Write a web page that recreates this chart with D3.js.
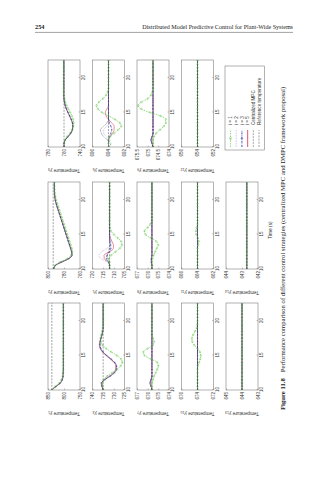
<!DOCTYPE html>
<html>
<head>
<meta charset="utf-8">
<script src="https://cdn.jsdelivr.net/npm/d3@7"></script>
<style>
  html, body { margin: 0; padding: 0; background: #fff; }
  svg { display: block; }
</style>
</head>
<body>
<svg id="page" width="334" height="480"></svg>
<script>
// ---- sample times (s) ----
const time = [10,10.5,11,11.5,12,12.5,13,13.5,14,14.5,15,15.5,16,16.5,17,17.5,18,18.5,19,19.5,20,20.5,21,21.5,22,22.5];
const timeTicks = [10, 15, 20];

// ---- reference temperatures, one per output ----
const refTemp = [838, 793.5, 760, 735, 712, 694, 675.6, 675.6, 674.75, 674, 664, 654, 644, 642.7];

// ---- y-axis ranges and tick labels per output ----
const yDomains = [[750,850],[760,800],[740,780],[725,740],[705,720],[692,696],[674,677],[674,677],[674,675.5],[672,676],[662,666],[652,656],[643,645],[642,644]];
const yTicks = [[750,800,850],[760,780,800],[740,760,780],[725,730,735,740],[705,710,715,720],[692,694,696],[674,675,676,677],[674,675,676,677],[674,674.5,675,675.5],[672,674,676],[662,664,666],[652,654,656],[643,644,645],[642,643,644]];

// ---- series labels ----
const seriesKeys = ["i5", "i2", "i3", "i1", "cmpc"];
const legendLabels = ["i = 1", "i = 2", "i = 3", "i = 5", "Centralized MPC", "Reference temperature"];

// ---- y1 ----
const y1_cmpc = [838,825,811,805,803,802.5,802,802,802,802,802,802,802,802,802,802,802,802,802,802,802,802,802,802,802,802];
const y1_i1 = [838,828,815,808,804.5,803,802.5,802,802,802,802,802,802,802,802,802,802,802,802,802,802,802,802,802,802,802];
const y1_i2 = [838,826,812,806,803.5,802.5,802,802,802,802,802,802,802,802,802,802,802,802,802,802,802,802,802,802,802,802];
const y1_i3 = [838,825.5,811.5,805.5,803,802.5,802,802,802,802,802,802,802,802,802,802,802,802,802,802,802,802,802,802,802,802];
const y1_i5 = [840,826,812,805.5,803,802.5,802,802,802,802,802,802,802,802,802,802,802,802,802,802,802,802,802,802,802,802];
// ---- y2 ----
const y2_cmpc = [793,791,783,774,770,770.5,771.8,773.2,774.6,776,777.4,778.8,780.2,781.6,783,784.4,785.8,787.2,788.6,789.9,791,791.6,791.9,792,792,792];
const y2_i1 = [793,791.5,785,776,771,769.5,770.3,771.6,773,774.4,775.8,777.2,778.6,780,781.4,782.8,784.2,785.6,787,788.4,789.7,790.8,791.5,791.8,792,792];
const y2_i2 = [793,791,783.5,774.5,770.3,770.7,772,773.4,774.8,776.2,777.6,779,780.4,781.8,783.2,784.6,786,787.4,788.8,790,791,791.6,791.9,792,792,792];
const y2_i3 = [793,791,783.2,774.2,770.1,770.5,771.8,773.2,774.6,776,777.4,778.8,780.2,781.6,783,784.4,785.8,787.2,788.6,789.9,791,791.6,791.9,792,792,792];
const y2_i5 = [793,790.8,782.8,773.8,770,770.4,771.7,773.1,774.5,775.9,777.3,778.7,780.1,781.5,782.9,784.3,785.7,787.1,788.5,789.8,790.9,791.5,791.9,792,792,792];
// ---- y3 ----
const y3_cmpc = [760,760,758.5,755,751.5,749.5,749,749.5,751,753,755,757,758.5,759.5,760,760.2,760.2,760.2,760.2,760.2,760.2,760.2,760.2,760.2,760.2,760.2];
const y3_i1 = [760,760,759,756.2,752.5,750,748.5,748,748.6,750.2,752.3,754.5,756.6,758.3,759.5,760.2,760.4,760.4,760.3,760.3,760.3,760.3,760.3,760.3,760.3,760.3];
const y3_i2 = [760,760,758.7,755.3,751.8,749.8,749.2,749.7,751.2,753.2,755.2,757.2,758.6,759.6,760.1,760.2,760.2,760.2,760.2,760.2,760.2,760.2,760.2,760.2,760.2,760.2];
const y3_i3 = [760,760,758.4,754.9,751.4,749.4,748.9,749.4,750.9,752.9,754.9,756.9,758.4,759.4,760,760.2,760.2,760.2,760.2,760.2,760.2,760.2,760.2,760.2,760.2,760.2];
const y3_i5 = [760,760,758.6,755.1,751.6,749.6,749.1,749.6,751.1,753.1,755.1,757.1,758.6,759.6,760.1,760.2,760.2,760.2,760.2,760.2,760.2,760.2,760.2,760.2,760.2,760.2];
// ---- y4 ----
const y4_cmpc = [735,735.6,735.8,734.2,731.8,729.8,728.9,728.8,729.7,731.4,733.4,735.1,736.2,736.6,736.4,736,735.5,735.2,735,735,735,735,735,735,735,735];
const y4_i1 = [735,735.2,735.3,734.8,733.2,730.8,728.4,726.8,726,726.6,728.6,731.2,733.6,735.3,736.1,736.2,735.9,735.5,735.2,735,735,735,735,735,735,735];
const y4_i2 = [735,735.8,736.3,735,732.5,730.3,729.2,729,729.8,731.5,733.5,735.2,736.2,736.5,736.3,735.9,735.5,735.2,735,735,735,735,735,735,735,735];
const y4_i3 = [735,735.5,735.7,734.1,731.6,729.6,728.7,728.7,729.6,731.3,733.3,735,736.1,736.5,736.4,736,735.5,735.2,735,735,735,735,735,735,735,735];
const y4_i5 = [735,735.4,735.6,734.3,732,730,729.2,729.1,730,731.7,733.6,735.3,736.4,736.8,736.6,736.1,735.6,735.2,735,735,735,735,735,735,735,735];
// ---- y5 ----
const y5_cmpc = [712,712,712.2,712.8,713,712.6,712.1,711.9,712,712,712,712,712,712,712,712,712,712,712,712,712,712,712,712,712,712];
const y5_i1 = [712,712,712,712.3,711.2,709.2,707.2,706.2,706.6,708.2,710,711.3,711.9,712,712,712,712,712,712,712,712,712,712,712,712,712];
const y5_i2 = [712,712,713,716,717,715.6,713.2,711.6,711.3,711.7,712,712,712,712,712,712,712,712,712,712,712,712,712,712,712,712];
const y5_i3 = [712,712,712.5,713.5,713.2,712,711.4,711.5,711.8,712,712,712,712,712,712,712,712,712,712,712,712,712,712,712,712,712];
const y5_i5 = [712,712,712.6,714.5,714.6,712,710.2,710.2,710.9,711.6,712,712,712,712,712,712,712,712,712,712,712,712,712,712,712,712];
// ---- y6 ----
const y6_cmpc = [694,693.7,694.1,694.6,694.9,695,694.6,694.2,694,694,694,694,694,694,694,694,694,694,694,694,694,694,694,694,694,694];
const y6_i1 = [694,694,694,693.8,693.3,692.8,692.4,692.6,693.2,694,694.8,695.3,695.5,695.2,694.7,694.3,694.1,694,694,694,694,694,694,694,694,694];
const y6_i2 = [694,694,693.8,694.2,694.6,694.6,694.2,693.9,694,694,694,694,694,694,694,694,694,694,694,694,694,694,694,694,694,694];
const y6_i3 = [694,694,694,693.9,693.7,693.6,693.7,693.9,694,694,694,694,694,694,694,694,694,694,694,694,694,694,694,694,694,694];
const y6_i5 = [694,694,694,693.8,693.5,693.3,693.3,693.6,694,694.3,694.4,694.2,694,694,694,694,694,694,694,694,694,694,694,694,694,694];
// ---- y7 ----
const y7_cmpc = [675.6,675.7,675.8,675.7,675.6,675.6,675.6,675.6,675.6,675.6,675.6,675.6,675.6,675.6,675.6,675.6,675.6,675.6,675.6,675.6,675.6,675.6,675.6,675.6,675.6,675.6];
const y7_i1 = [675.6,675.6,675.6,675.5,675.4,675.25,675.1,675,675.1,675.7,676.3,676.4,676,675.5,675.4,675.5,675.6,675.6,675.6,675.6,675.6,675.6,675.6,675.6,675.6,675.6];
const y7_i2 = [675.6,675.65,675.75,675.7,675.6,675.6,675.6,675.6,675.6,675.6,675.6,675.6,675.6,675.6,675.6,675.6,675.6,675.6,675.6,675.6,675.6,675.6,675.6,675.6,675.6,675.6];
const y7_i3 = [675.6,675.68,675.78,675.68,675.6,675.6,675.6,675.6,675.6,675.6,675.6,675.6,675.6,675.6,675.6,675.6,675.6,675.6,675.6,675.6,675.6,675.6,675.6,675.6,675.6,675.6];
const y7_i5 = [675.6,675.62,675.7,675.66,675.6,675.6,675.6,675.6,675.6,675.6,675.6,675.6,675.6,675.6,675.6,675.6,675.6,675.6,675.6,675.6,675.6,675.6,675.6,675.6,675.6,675.6];
// ---- y8 ----
const y8_cmpc = [675.6,675.6,675.65,675.65,675.6,675.6,675.6,675.6,675.6,675.6,675.6,675.6,675.6,675.6,675.6,675.6,675.6,675.6,675.6,675.6,675.6,675.6,675.6,675.6,675.6,675.6];
const y8_i1 = [675.6,675.6,675.6,675.55,675.45,675.3,675.15,675,675.2,675.7,676.2,676.3,676,675.75,675.6,675.6,675.6,675.6,675.6,675.6,675.6,675.6,675.6,675.6,675.6,675.6];
const y8_i2 = [675.6,675.62,675.68,675.66,675.6,675.6,675.6,675.6,675.6,675.6,675.6,675.6,675.6,675.6,675.6,675.6,675.6,675.6,675.6,675.6,675.6,675.6,675.6,675.6,675.6,675.6];
const y8_i3 = y8_cmpc;
const y8_i5 = y8_cmpc;
// ---- y9 ----
const y9_cmpc = [674.75,674.8,674.85,674.8,674.75,674.75,674.75,674.75,674.75,674.75,674.75,674.75,674.75,674.75,674.75,674.75,674.75,674.75,674.75,674.75,674.75,674.75,674.75,674.75,674.75,674.75];
const y9_i1 = [674.75,674.75,674.75,674.7,674.6,674.42,674.25,674.15,674.15,674.4,674.9,675.3,675.45,675.3,675,674.85,674.78,674.75,674.75,674.75,674.75,674.75,674.75,674.75,674.75,674.75];
const y9_i2 = [674.75,674.78,674.82,674.78,674.75,674.75,674.75,674.75,674.75,674.75,674.75,674.75,674.75,674.75,674.75,674.75,674.75,674.75,674.75,674.75,674.75,674.75,674.75,674.75,674.75,674.75];
const y9_i3 = y9_cmpc;
const y9_i5 = y9_i2;
// ---- y10 ----
const y10_cmpc = [674,674,674,674,674,674,674,674,674,674,674,674,674,674,674,674,674,674,674,674,674,674,674,674,674,674];
const y10_i1 = [674,674,674,674,674,674,674,673.95,673.8,673.65,673.6,673.7,674,674.4,674.65,674.7,674.55,674.3,674.1,674.02,674,674,674,674,674,674];
const y10_i2 = y10_cmpc, y10_i3 = y10_cmpc, y10_i5 = y10_cmpc;
// ---- y11 ----
const y11_cmpc = [664,664,664,664,664,664,664,664,664,664,664,664,664,664,664,664,664,664,664,664,664,664,664,664,664,664];
const y11_i1 = [664,664,664,664,664,664,664,663.9,663.85,663.95,664.15,664.2,664.1,664,664,664,664,664,664,664,664,664,664,664,664,664];
const y11_i2 = y11_cmpc, y11_i3 = y11_cmpc, y11_i5 = y11_cmpc;
// ---- y12 ----
const y12_cmpc = [654,654,654,654,654,654,654,654,654,654,654,654,654,654,654,654,654,654,654,654,654,654,654,654,654,654];
const y12_i1 = y12_cmpc, y12_i2 = y12_cmpc, y12_i3 = y12_cmpc, y12_i5 = y12_cmpc;
// ---- y13 ----
const y13_cmpc = [644,644,644,644,644,644,644,644,644,644,644,644,644,644,644,644,644,644,644,644,644,644,644,644,644,644];
const y13_i1 = y13_cmpc, y13_i2 = y13_cmpc, y13_i3 = y13_cmpc, y13_i5 = y13_cmpc;
// ---- y14 ----
const y14_cmpc = [642.7,642.7,642.7,642.7,642.7,642.7,642.7,642.7,642.7,642.7,642.7,642.7,642.7,642.7,642.7,642.7,642.7,642.7,642.7,642.7,642.7,642.7,642.7,642.7,642.7,642.7];
const y14_i1 = y14_cmpc, y14_i2 = y14_cmpc, y14_i3 = y14_cmpc, y14_i5 = y14_cmpc;

const outputs = [
  {cmpc:y1_cmpc, i1:y1_i1, i2:y1_i2, i3:y1_i3, i5:y1_i5},
  {cmpc:y2_cmpc, i1:y2_i1, i2:y2_i2, i3:y2_i3, i5:y2_i5},
  {cmpc:y3_cmpc, i1:y3_i1, i2:y3_i2, i3:y3_i3, i5:y3_i5},
  {cmpc:y4_cmpc, i1:y4_i1, i2:y4_i2, i3:y4_i3, i5:y4_i5},
  {cmpc:y5_cmpc, i1:y5_i1, i2:y5_i2, i3:y5_i3, i5:y5_i5},
  {cmpc:y6_cmpc, i1:y6_i1, i2:y6_i2, i3:y6_i3, i5:y6_i5},
  {cmpc:y7_cmpc, i1:y7_i1, i2:y7_i2, i3:y7_i3, i5:y7_i5},
  {cmpc:y8_cmpc, i1:y8_i1, i2:y8_i2, i3:y8_i3, i5:y8_i5},
  {cmpc:y9_cmpc, i1:y9_i1, i2:y9_i2, i3:y9_i3, i5:y9_i5},
  {cmpc:y10_cmpc, i1:y10_i1, i2:y10_i2, i3:y10_i3, i5:y10_i5},
  {cmpc:y11_cmpc, i1:y11_i1, i2:y11_i2, i3:y11_i3, i5:y11_i5},
  {cmpc:y12_cmpc, i1:y12_i1, i2:y12_i2, i3:y12_i3, i5:y12_i5},
  {cmpc:y13_cmpc, i1:y13_i1, i2:y13_i2, i3:y13_i3, i5:y13_i5},
  {cmpc:y14_cmpc, i1:y14_i1, i2:y14_i2, i3:y14_i3, i5:y14_i5}
];

// ---- drawing ----
const SANS = "'Liberation Sans', Arial, Helvetica, sans-serif";
const SERIF = "'Liberation Serif', 'Times New Roman', serif";

const styles = {
  i5:   {color: "#e07482", width: 0.8, dash: null},
  i2:   {color: "#a88bd0", width: 0.6, dash: "0.8,0.8"},
  i3:   {color: "#2f3db0", width: 0.6, dash: "2,0.8,0.6,0.8", marker: "plus"},
  i1:   {color: "#52c238", width: 0.6, dash: "1.5,1", marker: "circle"},
  cmpc: {color: "#111111", width: 0.6, dash: "0.6,0.9"}
};
const refStyle = {color: "#444", width: 0.5, dash: "2,1.2"};

const svg = d3.select("#page");

// running head
svg.append("text").attr("x", 35).attr("y", 29.3)
  .attr("font-family", SERIF).attr("font-size", 6.3).attr("font-weight", "bold")
  .attr("fill", "#222").text("254");
svg.append("text").attr("x", 293).attr("y", 29.3).attr("text-anchor", "end")
  .attr("font-family", SERIF).attr("font-size", 6.1).attr("fill", "#222")
  .text("Distributed Model Predictive Control for Plant-Wide Systems");
svg.append("line").attr("x1", 35).attr("x2", 293).attr("y1", 32.4).attr("y2", 32.4)
  .attr("stroke", "#444").attr("stroke-width", 0.5);

// the figure is laid out landscape and turned a quarter turn on the page
const fig = svg.append("g").attr("transform", "translate(0,420) rotate(-90)");

const colSpans = [[30, 117], [151, 238], [273, 360]];
const rowTops = [48, 92.5, 137, 181.5, 226];
const boxH = 32;
const tDomain = [10, 22.6];

function decimals(v) { return Number.isInteger(v) ? d3.format("d")(v) : d3.format(".1f")(v); }

outputs.forEach((series, k) => {
  const r = Math.floor(k / 3), c = k % 3;
  const [u0, u1] = colSpans[c];
  const v0 = rowTops[r], v1 = v0 + boxH;
  const x = d3.scaleLinear().domain(tDomain).range([u0, u1]);
  const y = d3.scaleLinear().domain(yDomains[k]).range([v1, v0]);
  const g = fig.append("g");

  // axes
  const ax = g.append("g").attr("transform", `translate(${u0},0)`)
    .call(d3.axisLeft(y).tickValues(yTicks[k]).tickFormat(decimals)
      .tickSizeInner(-1.5).tickSizeOuter(0).tickPadding(2));
  const bx = g.append("g").attr("transform", `translate(0,${v1})`)
    .call(d3.axisBottom(x).tickValues(timeTicks).tickFormat(d3.format("d"))
      .tickSizeInner(-1.5).tickSizeOuter(0).tickPadding(2.2));
  [ax, bx].forEach(a => {
    a.attr("font-size", 4.5).attr("font-family", SANS);
    a.select(".domain").remove();
    a.selectAll("line").attr("stroke", "#666").attr("stroke-width", 0.4);
    a.selectAll("text").attr("fill", "#333");
  });

  // clip to the plot box
  const clipId = "clip" + k;
  g.append("clipPath").attr("id", clipId).append("rect")
    .attr("x", u0).attr("y", v0).attr("width", u1 - u0).attr("height", boxH);
  const plot = g.append("g").attr("clip-path", `url(#${clipId})`);

  // reference temperature
  plot.append("line").attr("x1", u0).attr("x2", u1)
    .attr("y1", y(refTemp[k])).attr("y2", y(refTemp[k]))
    .attr("stroke", refStyle.color).attr("stroke-width", refStyle.width)
    .attr("stroke-dasharray", refStyle.dash);

  const line = d3.line().x((d, i) => x(time[i])).y(d => y(d)).curve(d3.curveMonotoneX);
  seriesKeys.forEach(key => {
    const st = styles[key];
    const vals = series[key];
    plot.append("path").attr("d", line(vals)).attr("fill", "none")
      .attr("stroke", st.color).attr("stroke-width", st.width)
      .attr("stroke-dasharray", st.dash);
    if (st.marker === "circle") {
      plot.selectAll(null).data(vals).join("circle")
        .attr("cx", (d, i) => x(time[i])).attr("cy", d => y(d)).attr("r", 0.8)
        .attr("fill", "none").attr("stroke", st.color).attr("stroke-width", 0.35);
    } else if (st.marker === "plus") {
      plot.selectAll(null).data(vals).join("path")
        .attr("d", (d, i) => { const px = x(time[i]), py = y(d);
          return `M${px-0.7},${py}H${px+0.7}M${px},${py-0.7}V${py+0.7}`; })
        .attr("stroke", st.color).attr("stroke-width", 0.3);
    }
  });

  g.append("rect").attr("x", u0).attr("y", v0).attr("width", u1 - u0).attr("height", boxH)
    .attr("fill", "none").attr("stroke", "#666").attr("stroke-width", 0.5);

  // y label, e.g. "Temperature y3"
  const lab = g.append("text")
    .attr("transform", `translate(${u0 - 21.5},${(v0 + v1) / 2}) rotate(-90)`)
    .attr("text-anchor", "middle").attr("font-family", SANS).attr("font-size", 4.7).attr("fill", "#333");
  lab.append("tspan").text("Temperature ");
  lab.append("tspan").attr("font-style", "italic").text("y");
  lab.append("tspan").attr("font-size", 3.4).attr("dy", 1).text(String(k + 1));
});

// time axis label under the bottom row
fig.append("text").attr("x", 190).attr("y", 272)
  .attr("text-anchor", "middle").attr("font-family", SANS).attr("font-size", 4.8).attr("fill", "#333")
  .text("Time (s)");

// legend in the free slot
{
  const lu0 = 270, lu1 = 354, lv0 = 225, lv1 = 264.5;
  const lg = fig.append("g");
  lg.append("rect").attr("x", lu0).attr("y", lv0).attr("width", lu1 - lu0).attr("height", lv1 - lv0)
    .attr("fill", "#fff").attr("stroke", "#666").attr("stroke-width", 0.5);
  const entryKeys = ["i1", "i2", "i3", "i5", "cmpc", "ref"];
  const rowV = d3.scalePoint().domain(entryKeys).range([230.5, 259]);
  entryKeys.forEach((key, j) => {
    const st = key === "ref" ? refStyle : styles[key];
    const vy = rowV(key);
    lg.append("line").attr("x1", lu0 + 3).attr("x2", lu0 + 20).attr("y1", vy).attr("y2", vy)
      .attr("stroke", st.color).attr("stroke-width", key === "i5" ? 1.2 : (key === "i3" ? 0.9 : st.width))
      .attr("stroke-dasharray", st.dash);
    const mx = lu0 + 11.5;
    if (st.marker === "circle") {
      lg.append("circle").attr("cx", mx).attr("cy", vy).attr("r", 1.1)
        .attr("fill", "none").attr("stroke", st.color).attr("stroke-width", 0.4);
    } else if (st.marker === "plus") {
      lg.append("path").attr("d", `M${mx-1.2},${vy}H${mx+1.2}M${mx},${vy-1.2}V${vy+1.2}`)
        .attr("stroke", st.color).attr("stroke-width", 0.4);
    }
    lg.append("text").attr("x", lu0 + 25).attr("y", vy + 1.6)
      .attr("font-family", SANS).attr("font-size", 4.6).attr("fill", "#333")
      .text(legendLabels[j]);
  });
}

// caption
{
  const cap = fig.append("text").attr("x", 10).attr("y", 284.5)
    .attr("font-family", SERIF).attr("font-size", 6.7).attr("fill", "#222");
  cap.append("tspan").attr("font-weight", "bold").text("Figure 11.8");
  cap.append("tspan").attr("dx", 6)
    .text("Performance comparison of different control strategies (centralized MPC and DMPC framework proposal)");
}
</script>
</body>
</html>
